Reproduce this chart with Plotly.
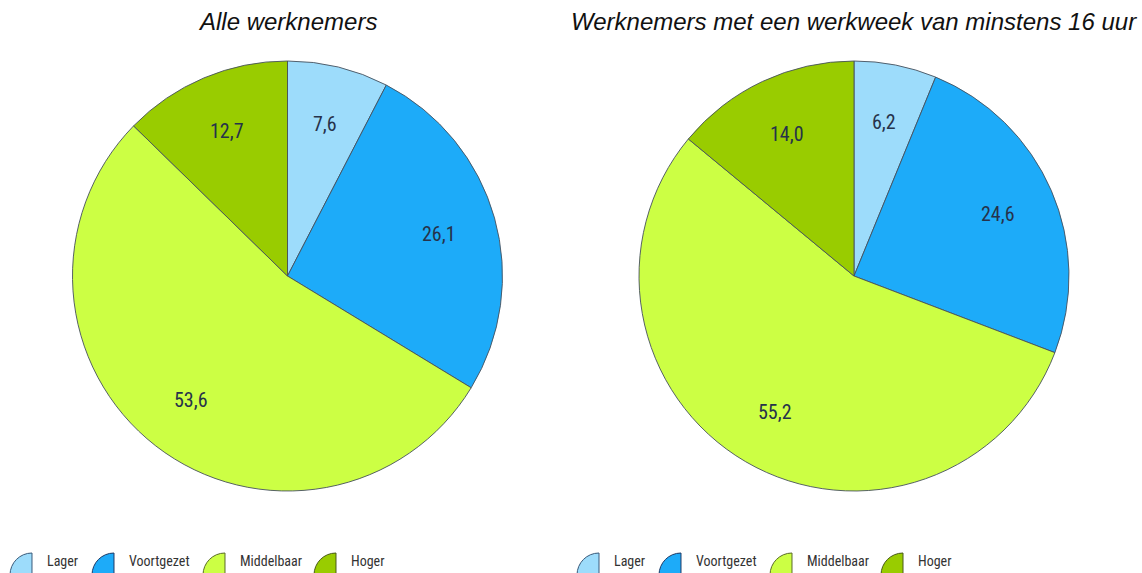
import math
import plotly.graph_objects as go

# Opleidingsniveau van werknemers (procentuele verdeling)
categories = ["Lager", "Voortgezet", "Middelbaar", "Hoger"]
alle_werknemers = [7.6, 26.1, 53.6, 12.7]
werkweek_16_uur = [6.2, 24.6, 55.2, 14.0]
titles = ["Alle werknemers", "Werknemers met een werkweek van minstens 16 uur"]

colors = ["#9DDCFB", "#1DABF9", "#CCFF44", "#99CC00"]
edge_colors = ["#3a5a7a", "#1f3a66", "#5a6a2a", "#4a5a1a"]

W, H = 1142, 573
narrow = "Liberation Sans Narrow, Arial Narrow, Roboto Condensed, Liberation Sans, Arial, sans-serif"

# pie domains in paper units (x0, x1, y0, y1)
domains = [
    (72 / W, 503 / W, 1 - 491 / H, 1 - 61 / H),
    (638 / W, 1070 / W, 1 - 491 / H, 1 - 61 / H),
]

fig = go.Figure()
annotations = []
shapes = []

for values, title, (x0, x1, y0, y1) in zip([alle_werknemers, werkweek_16_uur], titles, domains):
    fig.add_trace(go.Pie(
        labels=categories,
        values=values,
        sort=False,
        direction="clockwise",
        rotation=0,
        textinfo="none",
        marker=dict(colors=colors, line=dict(color="#46505c", width=0.9)),
        domain=dict(x=[x0, x1], y=[y0, y1]),
        hoverinfo="label+value",
    ))

    # geometry of the pie in pixels
    cx = (x0 + x1) / 2 * W
    cy = (1 - (y0 + y1) / 2) * H
    r = min((x1 - x0) * W, (y1 - y0) * H) / 2

    # slice value labels along each bisector
    total = sum(values)
    cum = 0.0
    for v in values:
        mid = (cum + v / 2) / total * 2 * math.pi
        cum += v
        px = cx + 0.73 * r * math.sin(mid)
        py = cy - 0.73 * r * math.cos(mid)
        annotations.append(dict(
            x=px / W, y=1 - py / H, xref="paper", yref="paper",
            text=f"{v:.1f}".replace(".", ","), showarrow=False,
            font=dict(family=narrow, size=20, color="#26324a"),
            xanchor="center", yanchor="middle",
        ))

    # title above the pie
    annotations.append(dict(
        x=cx / W, y=1 - 22 / H, xref="paper", yref="paper",
        text=f"<i>{title}</i>", showarrow=False,
        font=dict(family="Liberation Sans, Arial, sans-serif", size=24, color="#111111"),
        xanchor="center", yanchor="middle",
    ))

# legend rows below each pie: quarter-disc icons with labels
legend_icon_left = [10, 92, 203, 314]
legend_offsets = [0, 567]
icon_r = 22
icon_cy = 575
k = 0.5523
for off in legend_offsets:
    for name, col, ecol, ix in zip(categories, colors, edge_colors, legend_icon_left):
        left = ix + off
        ccx = left + icon_r
        def P(x, y):
            return f"{x / W:.5f},{1 - y / H:.5f}"
        path = (
            f"M {P(ccx, icon_cy)} L {P(ccx, icon_cy - icon_r)} "
            f"C {P(ccx - k * icon_r, icon_cy - icon_r)} {P(ccx - icon_r, icon_cy - k * icon_r)} {P(ccx - icon_r, icon_cy)} Z"
        )
        shapes.append(dict(
            type="path", path=path, xref="paper", yref="paper",
            fillcolor=col, line=dict(color=ecol, width=1), layer="above",
        ))
        annotations.append(dict(
            x=(ccx + 13) / W, y=1 - 561 / H, xref="paper", yref="paper",
            text=name, showarrow=False,
            font=dict(family=narrow, size=14, color="#333333"),
            xanchor="left", yanchor="middle",
        ))

fig.update_layout(
    width=W, height=H,
    margin=dict(l=0, r=0, t=0, b=0),
    paper_bgcolor="white",
    plot_bgcolor="white",
    showlegend=False,
    annotations=annotations,
    shapes=shapes,
)

fig.write_html("out.html")
